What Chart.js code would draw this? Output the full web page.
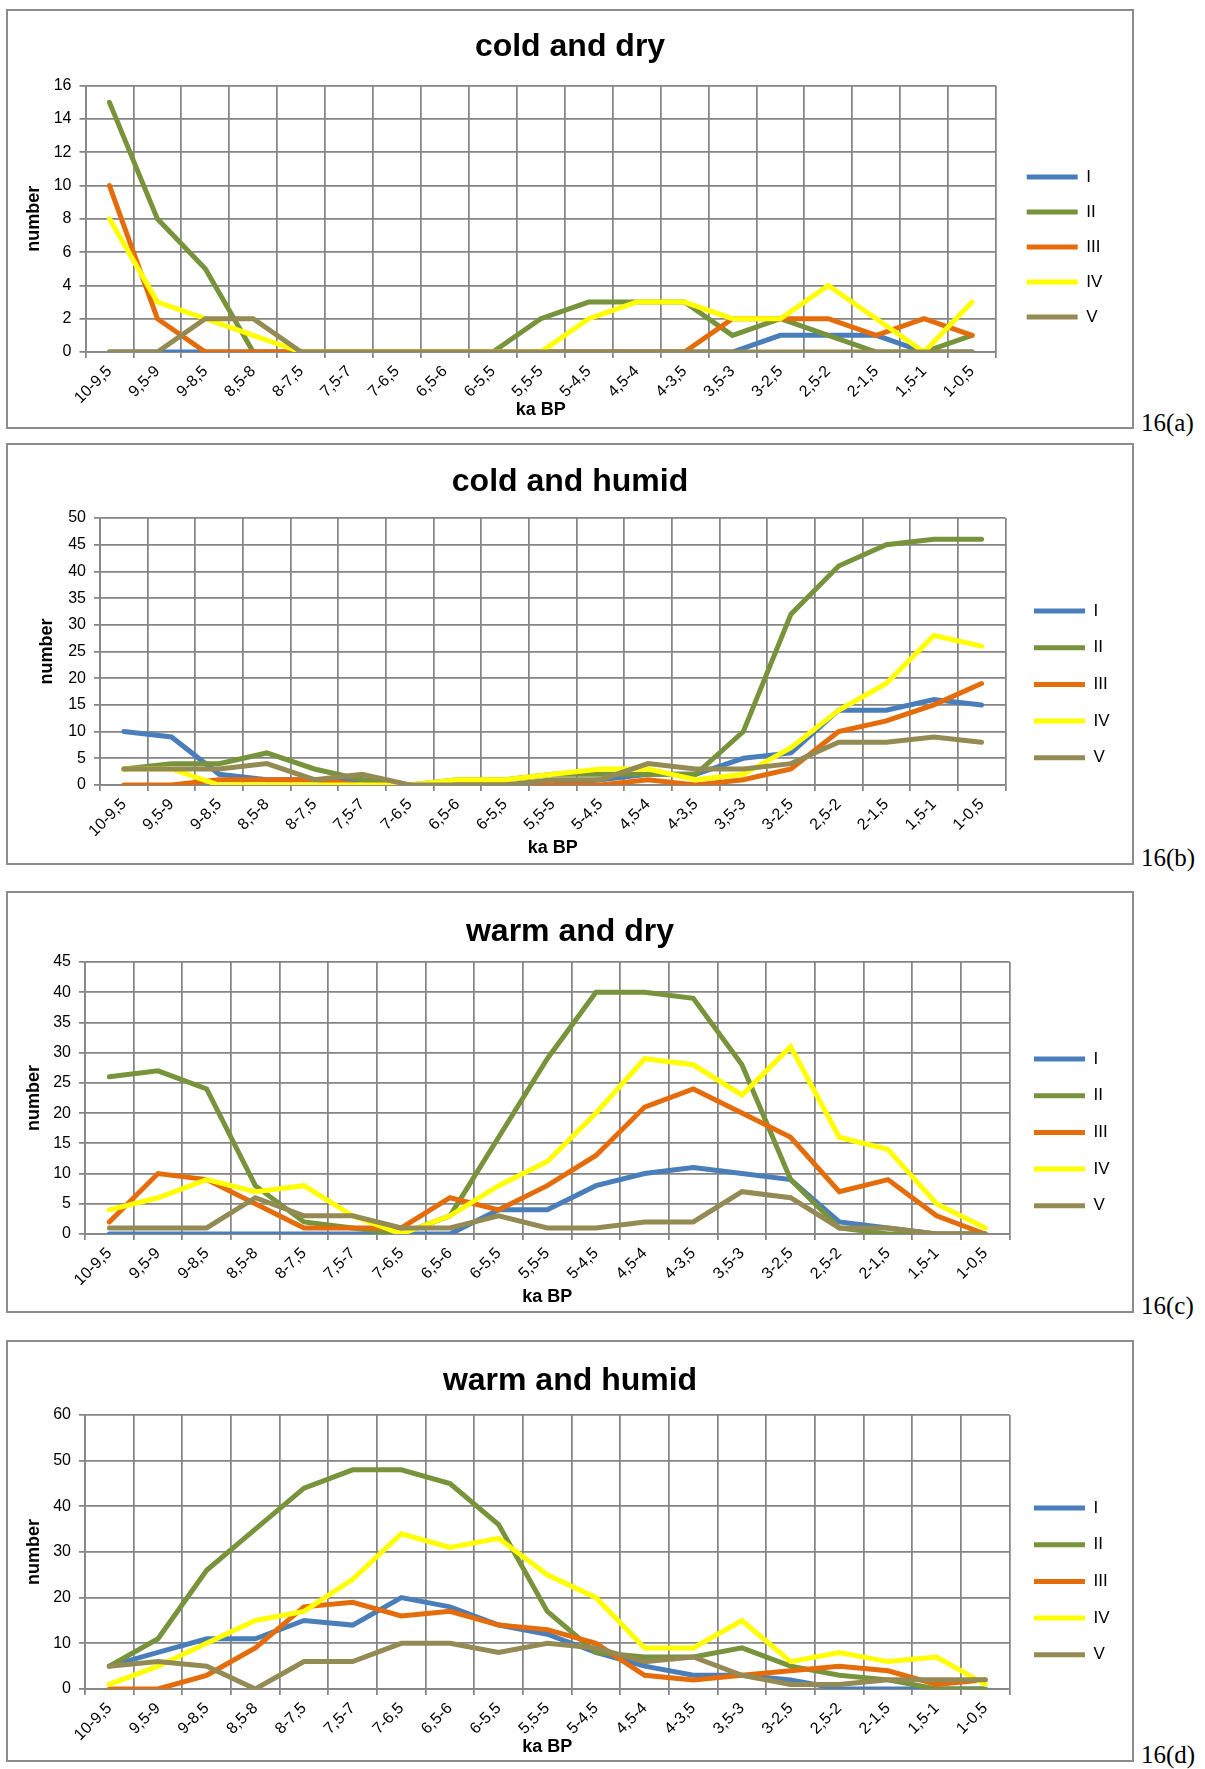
<!DOCTYPE html>
<html>
<head>
<meta charset="utf-8">
<script src="https://cdn.jsdelivr.net/npm/chart.js@4.4.1/dist/chart.umd.min.js"></script>
<style>
  body { margin: 0; background: #fff; width: 1205px; height: 1769px; position: relative; overflow: hidden; }
  .frame { position: absolute; left: 6px; width: 1128px; box-sizing: border-box; border: 2px solid #8c8c8c; }
  canvas { position: absolute; left: 6px; }
  .tag { position: absolute; left: 1141px; font-family: "Liberation Serif", "Times New Roman", serif; font-size: 25px; line-height: 1; color: #000; }
</style>
</head>
<body>
<div class="frame" style="top:9px;height:420px"></div>
<canvas id="ca" width="1128" height="420" style="top:9px"></canvas>
<div class="tag" style="top:410px">16(a)</div>

<div class="frame" style="top:443px;height:422px"></div>
<canvas id="cb" width="1128" height="422" style="top:443px"></canvas>
<div class="tag" style="top:845px">16(b)</div>

<div class="frame" style="top:891px;height:422px"></div>
<canvas id="cc" width="1128" height="422" style="top:891px"></canvas>
<div class="tag" style="top:1293px">16(c)</div>

<div class="frame" style="top:1340px;height:422px"></div>
<canvas id="cd" width="1128" height="422" style="top:1340px"></canvas>
<div class="tag" style="top:1742px">16(d)</div>

<script>
// categories (ka BP intervals) and series names
const categories = ['10-9,5', '9,5-9', '9-8,5', '8,5-8', '8-7,5', '7,5-7', '7-6,5', '6,5-6', '6-5,5', '5,5-5',
  '5-4,5', '4,5-4', '4-3,5', '3,5-3', '3-2,5', '2,5-2', '2-1,5', '1,5-1', '1-0,5'];
const seriesNames = ['I', 'II', 'III', 'IV', 'V'];

// 16(a) cold and dry
const coldDryI   = [0, 0, 0, 0, 0, 0, 0, 0, 0, 0, 0, 0, 0, 0, 1, 1, 1, 0, 0];
const coldDryII  = [15, 8, 5, 0, 0, 0, 0, 0, 0, 2, 3, 3, 3, 1, 2, 1, 0, 0, 1];
const coldDryIII = [10, 2, 0, 0, 0, 0, 0, 0, 0, 0, 0, 0, 0, 2, 2, 2, 1, 2, 1];
const coldDryIV  = [8, 3, 2, 1, 0, 0, 0, 0, 0, 0, 2, 3, 3, 2, 2, 4, 2, 0, 3];
const coldDryV   = [0, 0, 2, 2, 0, 0, 0, 0, 0, 0, 0, 0, 0, 0, 0, 0, 0, 0, 0];

// 16(b) cold and humid
const coldHumidI   = [10, 9, 2, 1, 1, 1, 0, 0, 0, 0, 1, 2, 2, 5, 6, 14, 14, 16, 15];
const coldHumidII  = [3, 4, 4, 6, 3, 1, 0, 1, 1, 2, 2, 2, 2, 10, 32, 41, 45, 46, 46];
const coldHumidIII = [0, 0, 1, 1, 1, 0, 0, 0, 0, 0, 0, 1, 0, 1, 3, 10, 12, 15, 19];
const coldHumidIV  = [3, 3, 0, 0, 0, 0, 0, 1, 1, 2, 3, 3, 1, 2, 7, 14, 19, 28, 26];
const coldHumidV   = [3, 3, 3, 4, 1, 2, 0, 0, 0, 1, 1, 4, 3, 3, 4, 8, 8, 9, 8];

// 16(c) warm and dry
const warmDryI   = [0, 0, 0, 0, 0, 0, 0, 0, 4, 4, 8, 10, 11, 10, 9, 2, 1, 0, 0];
const warmDryII  = [26, 27, 24, 8, 2, 1, 0, 3, 16, 29, 40, 40, 39, 28, 9, 1, 0, 0, 0];
const warmDryIII = [2, 10, 9, 5, 1, 1, 1, 6, 4, 8, 13, 21, 24, 20, 16, 7, 9, 3, 0];
const warmDryIV  = [4, 6, 9, 7, 8, 3, 0, 3, 8, 12, 20, 29, 28, 23, 31, 16, 14, 5, 1];
const warmDryV   = [1, 1, 1, 6, 3, 3, 1, 1, 3, 1, 1, 2, 2, 7, 6, 1, 1, 0, 0];

// 16(d) warm and humid
const warmHumidI   = [5, 8, 11, 11, 15, 14, 20, 18, 14, 12, 8, 5, 3, 3, 2, 0, 0, 0, 0];
const warmHumidII  = [5, 11, 26, 35, 44, 48, 48, 45, 36, 17, 8, 7, 7, 9, 5, 3, 2, 0, 0];
const warmHumidIII = [0, 0, 3, 9, 18, 19, 16, 17, 14, 13, 10, 3, 2, 3, 4, 5, 4, 1, 2];
const warmHumidIV  = [1, 5, 10, 15, 17, 24, 34, 31, 33, 25, 20, 9, 9, 15, 6, 8, 6, 7, 1];
const warmHumidV   = [5, 6, 5, 0, 6, 6, 10, 10, 8, 10, 9, 6, 7, 3, 1, 1, 2, 2, 2];

const FONT = '"Liberation Sans", Arial, sans-serif';
const GRID = '#858585';
const colors = ['#4a7ebb', '#77933c', '#e46c0a', '#ffff00', '#948a54'];

Chart.defaults.font.family = FONT;
Chart.defaults.color = '#000';

// places the plot area of each panel where it sits in the figure
function makeChart(id, title, series, yMax, yStep, box) {
  const canvas = document.getElementById(id);
  const W = canvas.width, H = canvas.height;
  const legendW = 100;
  const side = W - box.gap - box.plotRight - legendW;

  new Chart(canvas, {
    type: 'line',
    data: {
      labels: categories,
      datasets: series.map((s, i) => ({
        label: seriesNames[i],
        data: s,
        borderColor: colors[i],
        backgroundColor: colors[i],
        borderWidth: 5,
        borderCapStyle: 'round',
        borderJoinStyle: 'miter',
        pointRadius: 0,
        tension: 0,
        order: 5 - i
      }))
    },
    options: {
      responsive: false,
      animation: false,
      devicePixelRatio: 1,
      layout: { padding: { left: side, right: side, top: 0, bottom: 0 } },
      plugins: {
        tooltip: { enabled: false },
        title: {
          display: true,
          text: title,
          color: '#000',
          font: { size: 32, weight: 'bold' },
          padding: { top: box.titleY - 19.2, bottom: box.plotTop - box.titleY - 19.2 }
        },
        legend: {
          position: 'right',
          align: 'center',
          maxWidth: legendW,
          title: { display: true, text: ' ', font: { size: 10 }, padding: { top: box.legendTitle, bottom: box.legendTitle } },
          labels: {
            usePointStyle: true,
            pointStyle: 'line',
            pointStyleWidth: 51,
            padding: box.legendPad,
            color: '#000',
            font: { size: 17 },
            sort: (a, b) => a.datasetIndex - b.datasetIndex
          }
        }
      },
      scales: {
        x: {
          offset: true,
          grid: { offset: true, color: GRID, lineWidth: 1.75, tickLength: 6 },
          border: { color: GRID, width: 1.75 },
          ticks: { autoSkip: false, minRotation: 45, maxRotation: 45, padding: 4, color: '#000', font: { size: 16 } },
          title: {
            display: true, text: 'ka BP', color: '#000',
            font: { size: 18, weight: 'bold' },
            padding: { top: 0, bottom: H - 10.8 - box.kaY }
          },
          afterFit: (s) => { s.height = H - box.plotBottom; }
        },
        y: {
          min: 0,
          max: yMax,
          grid: { color: GRID, lineWidth: 1.75, tickLength: 6 },
          border: { color: GRID, width: 1.75 },
          ticks: { stepSize: yStep, padding: 8, color: '#000', font: { size: 16 } },
          title: {
            display: true, text: 'number', color: '#000',
            font: { size: 18, weight: 'bold' },
            padding: { top: box.numberX - side - 10.8, bottom: 0 }
          },
          afterFit: (s) => { s.width = box.plotLeft - side; }
        },
        // empty spacer between plot and legend
        y2: {
          position: 'right',
          grid: { display: false },
          border: { display: false },
          ticks: { display: false },
          afterFit: (s) => { s.width = box.gap; }
        }
      }
    }
  });
}

makeChart('ca', 'cold and dry', [coldDryI, coldDryII, coldDryIII, coldDryIV, coldDryV], 16, 2,
  { plotLeft: 79.5, plotRight: 990, plotTop: 76.7, plotBottom: 343, titleY: 38.4, numberX: 28, kaY: 400.6, gap: 12.7, legendPad: 18, legendTitle: 22 });
makeChart('cb', 'cold and humid', [coldHumidI, coldHumidII, coldHumidIII, coldHumidIV, coldHumidV], 50, 5,
  { plotLeft: 94, plotRight: 999.4, plotTop: 75, plotBottom: 342, titleY: 39.6, numberX: 41, kaY: 405.5, gap: 8.9, legendPad: 19.7, legendTitle: 24.4 });
makeChart('cc', 'warm and dry', [warmDryI, warmDryII, warmDryIII, warmDryIV, warmDryV], 45, 5,
  { plotLeft: 79, plotRight: 1003.6, plotTop: 71, plotBottom: 343, titleY: 41, numberX: 28, kaY: 406.5, gap: 4.7, legendPad: 19.7, legendTitle: 24.4 });
makeChart('cd', 'warm and humid', [warmHumidI, warmHumidII, warmHumidIII, warmHumidIV, warmHumidV], 60, 10,
  { plotLeft: 79, plotRight: 1003.6, plotTop: 75, plotBottom: 349, titleY: 41, numberX: 28, kaY: 406.6, gap: 4.7, legendPad: 19.7, legendTitle: 24.4 });
</script>
</body>
</html>
